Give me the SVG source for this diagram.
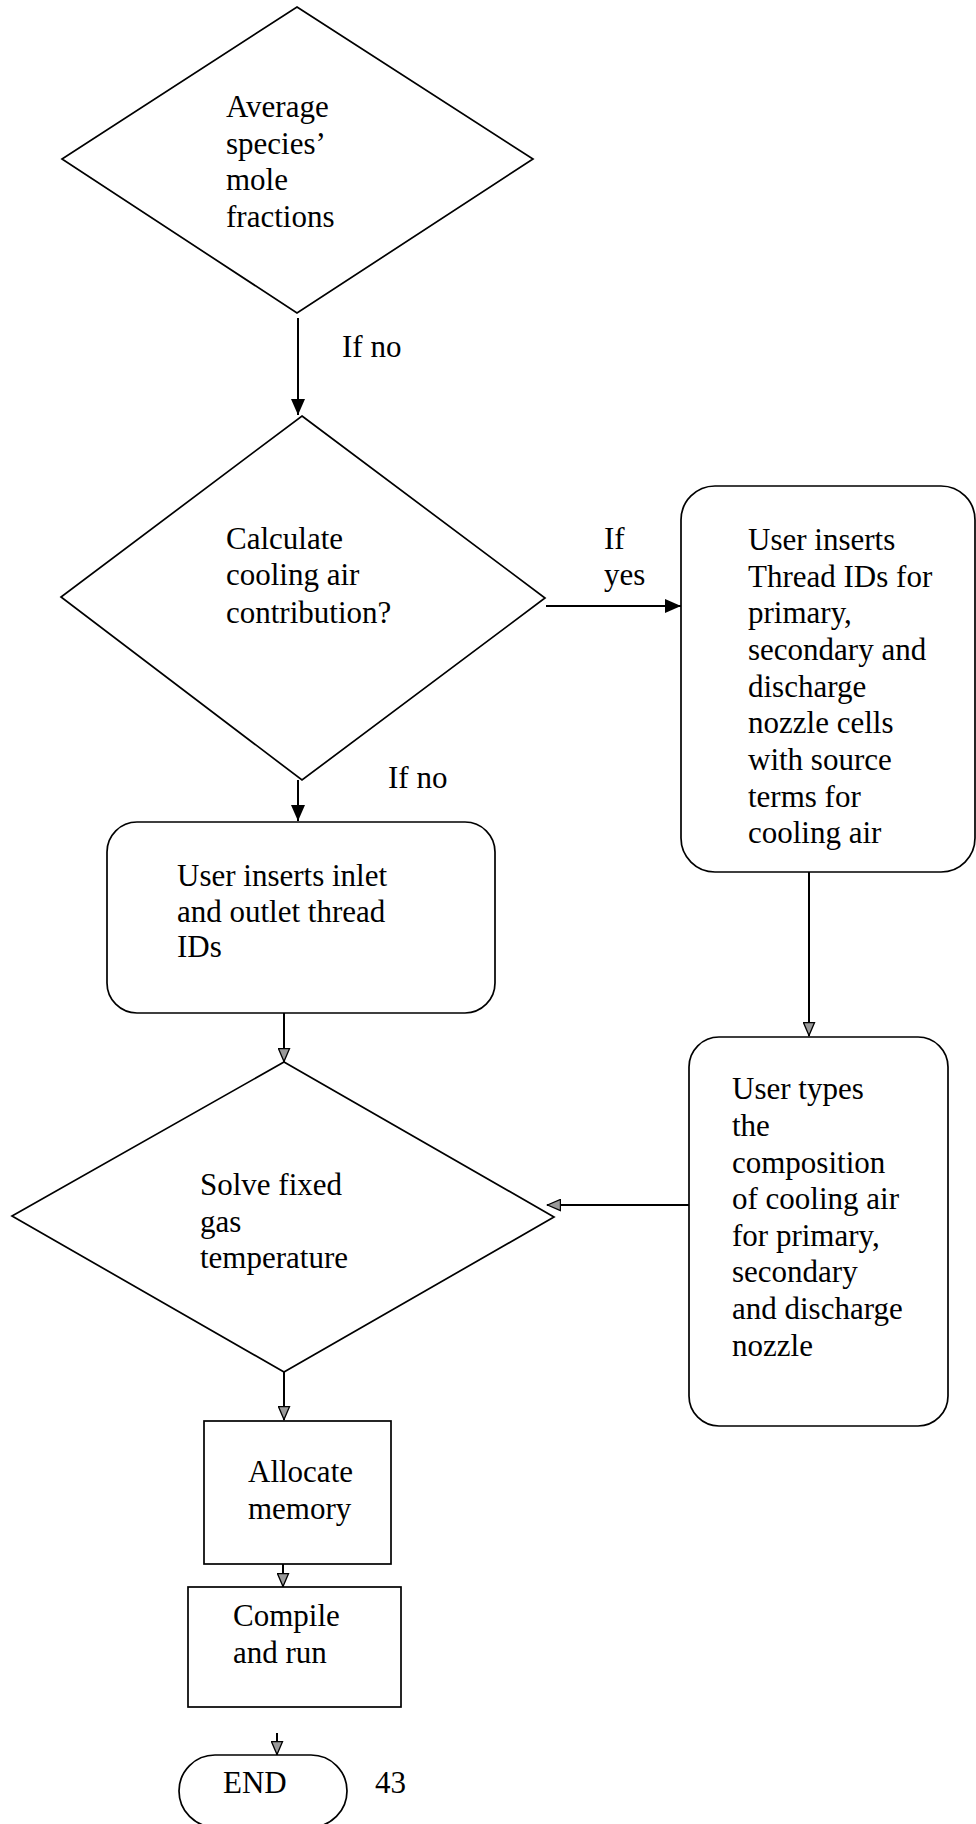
<svg xmlns="http://www.w3.org/2000/svg" width="976" height="1824" viewBox="0 0 976 1824">
<defs>
<style>
.shape{fill:#fff;stroke:#000;stroke-width:1.7}
.conn{fill:none;stroke:#000;stroke-width:2}
.t{font-family:"Liberation Serif","Times New Roman",serif;font-size:31px;fill:#000}
</style>
<marker id="solid" viewBox="0 0 16 14" markerUnits="userSpaceOnUse" markerWidth="16" markerHeight="14" refX="16" refY="7" orient="auto">
<path d="M0,0 L16,7 L0,14 z" fill="#000"/>
</marker>
<marker id="hollow" viewBox="0 0 16 14" markerUnits="userSpaceOnUse" markerWidth="15" markerHeight="13" refX="15.5" refY="7" orient="auto">
<path d="M1,1 L15,7 L1,13 z" fill="#9a9a9a" stroke="#000" stroke-width="1.4"/>
</marker>
</defs>
<rect width="976" height="1824" fill="#fff"/>

<g id="connectors">
<line class="conn" x1="298" y1="318" x2="298" y2="415" marker-end="url(#solid)"/>
<line class="conn" x1="546" y1="606" x2="681" y2="606" marker-end="url(#solid)"/>
<line class="conn" x1="298" y1="780" x2="298" y2="821" marker-end="url(#solid)"/>
<line class="conn" x1="809" y1="872" x2="809" y2="1036" marker-end="url(#hollow)"/>
<line class="conn" x1="689" y1="1205" x2="547" y2="1205" marker-end="url(#hollow)"/>
<line class="conn" x1="284" y1="1013" x2="284" y2="1062" marker-end="url(#hollow)"/>
<line class="conn" x1="284" y1="1372" x2="284" y2="1420" marker-end="url(#hollow)"/>
<line class="conn" x1="283" y1="1564" x2="283" y2="1587" marker-end="url(#hollow)"/>
<line class="conn" x1="277" y1="1733" x2="277" y2="1755" marker-end="url(#hollow)"/>
<text class="t" x="342" y="357">If no</text>
<text class="t" x="388" y="788">If no</text>
<text class="t" x="604" y="549">If</text>
<text class="t" x="604" y="585">yes</text>
</g>

<g id="n1-average">
<polygon class="shape" points="297,7 533,159 297,313 62,159"/>
<text class="t" x="226" y="117">Average</text>
<text class="t" x="226" y="154">species’</text>
<text class="t" x="226" y="190">mole</text>
<text class="t" x="226" y="227">fractions</text>
</g>

<g id="n2-calculate">
<polygon class="shape" points="302,416 545,598 302,780 61,597"/>
<text class="t" x="226" y="549">Calculate</text>
<text class="t" x="226" y="585">cooling air</text>
<text class="t" x="226" y="623">contribution?</text>
</g>

<g id="n3-thread-ids">
<rect class="shape" x="681" y="486" width="294" height="386" rx="34" ry="34"/>
<text class="t" x="748" y="550">User inserts</text>
<text class="t" x="748" y="587">Thread IDs for</text>
<text class="t" x="748" y="623">primary,</text>
<text class="t" x="748" y="660">secondary and</text>
<text class="t" x="748" y="697">discharge</text>
<text class="t" x="748" y="733">nozzle cells</text>
<text class="t" x="748" y="770">with source</text>
<text class="t" x="748" y="807">terms for</text>
<text class="t" x="748" y="843">cooling air</text>
</g>

<g id="n4-inlet-outlet">
<rect class="shape" x="107" y="822" width="388" height="191" rx="30" ry="30"/>
<text class="t" x="177" y="886">User inserts inlet</text>
<text class="t" x="177" y="922">and outlet thread</text>
<text class="t" x="177" y="957">IDs</text>
</g>

<g id="n5-composition">
<rect class="shape" x="689" y="1037" width="259" height="389" rx="30" ry="30"/>
<text class="t" x="732" y="1099">User types</text>
<text class="t" x="732" y="1136">the</text>
<text class="t" x="732" y="1173">composition</text>
<text class="t" x="732" y="1209">of cooling air</text>
<text class="t" x="732" y="1246">for primary,</text>
<text class="t" x="732" y="1282">secondary</text>
<text class="t" x="732" y="1319">and discharge</text>
<text class="t" x="732" y="1356">nozzle</text>
</g>

<g id="n6-solve">
<polygon class="shape" points="284,1062 554,1217 284,1372 12,1216"/>
<text class="t" x="200" y="1195">Solve fixed</text>
<text class="t" x="200" y="1232">gas</text>
<text class="t" x="200" y="1268">temperature</text>
</g>

<g id="n7-allocate">
<rect class="shape" x="204" y="1421" width="187" height="143"/>
<text class="t" x="248" y="1482">Allocate</text>
<text class="t" x="248" y="1519">memory</text>
</g>

<g id="n8-compile">
<rect class="shape" x="188" y="1587" width="213" height="120"/>
<text class="t" x="233" y="1626">Compile</text>
<text class="t" x="233" y="1663">and run</text>
</g>

<g id="n9-end">
<rect class="shape" x="179" y="1755" width="168" height="72" rx="36" ry="36"/>
<text class="t" x="223" y="1793">END</text>
</g>

<text class="t" x="375" y="1793">43</text>
</svg>
